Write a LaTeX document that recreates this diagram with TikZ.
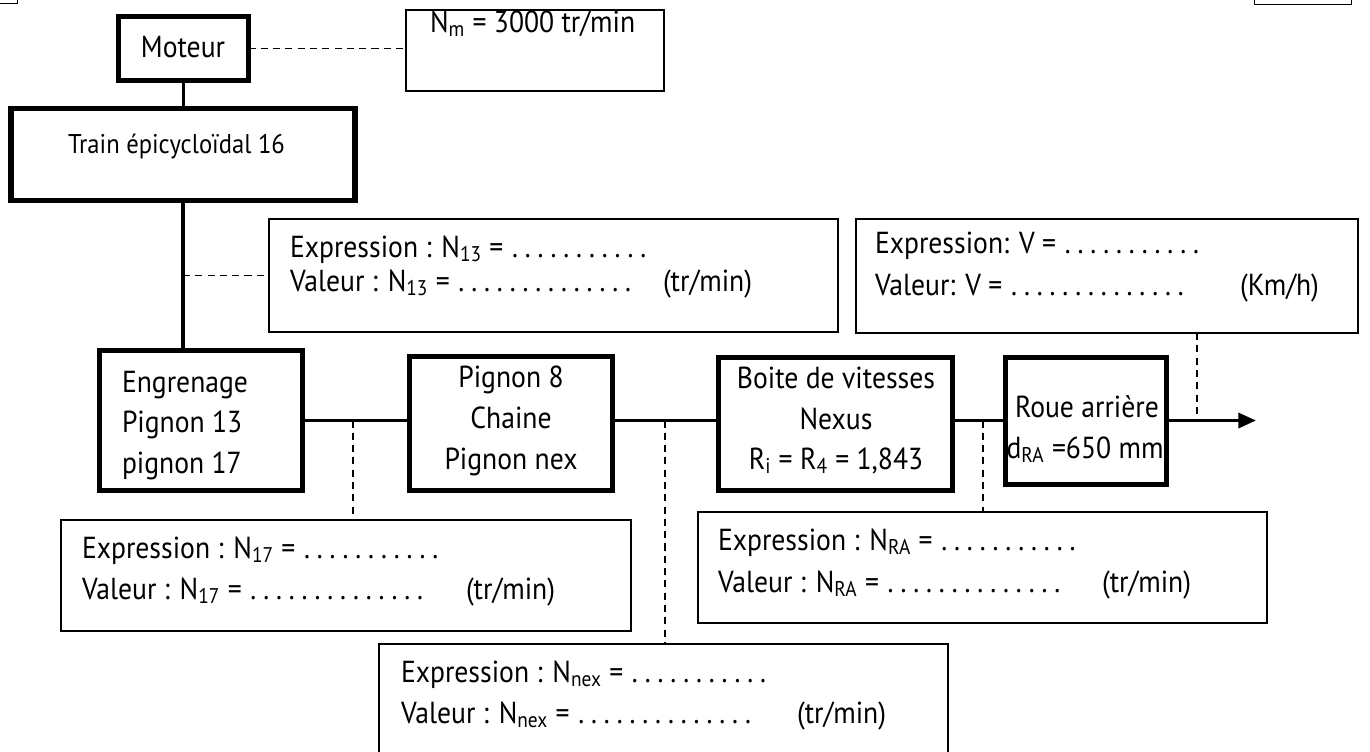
\documentclass[tikz,border=0pt]{standalone}
\usepackage{fontspec}
\setmainfont{PT Sans}[FakeStretch=0.91]
\usetikzlibrary{arrows.meta}
\newcommand\fmain{\fontsize{17.3}{22}\selectfont}
\newcommand\ftrain{\fontsize{15.4}{20}\selectfont}
\newcommand\dotrow[1]{\hspace{3pt}\cleaders\hbox to 7.3pt{\hss.\hss}\hskip\dimexpr 7.3pt*#1\relax\hbox{}}
\begin{document}
\begin{tikzpicture}[x=0.02cm, y=-0.02cm,
  thickbox/.style={draw, line width=3pt, inner sep=0pt, outer sep=0pt},
  thinbox/.style={draw, line width=1.1pt, inner sep=0pt, outer sep=0pt},
  bx/.style 2 args={minimum width=#1*0.02cm, minimum height=#2*0.02cm},
  conn/.style={line width=1.9pt},
  dashline/.style={line width=0.8pt, dash pattern=on 4pt off 3pt},
  txt/.style={inner sep=0pt, outer sep=0pt, font=\fmain},
]
\clip (0,0) rectangle (1370,751);

% partial boxes at the top edge
\node[thinbox, bx={40}{30}, anchor=south east] (tlbox) at (17.5,3.5) {};
\node[thinbox, bx={97}{30}, anchor=south east] (trbox) at (1351.5,4.5) {};

% main chain boxes
\node[thickbox, bx={130}{64}] (moteur) at (183.5,48.5) {};
\node[thickbox, bx={344}{92}] (train) at (183,154.5) {};
\node[thickbox, bx={203}{140}] (engr) at (201,420.5) {};
\node[thickbox, bx={203}{134}] (pign8) at (511,423.5) {};
\node[thickbox, bx={234}{133}] (boite) at (835.5,424) {};
\node[thickbox, bx={161}{127}] (roue) at (1086,421) {};

% answer boxes
\node[thinbox, bx={258.2}{81.2}] (nm) at (535,50.5) {};
\node[thinbox, bx={569.2}{113.2}] (n13) at (553.5,275.5) {};
\node[thinbox, bx={502.2}{114.2}] (v) at (1107,276) {};
\node[thinbox, bx={570.2}{111.2}] (n17) at (346,575.5) {};
\node[thinbox, bx={569.2}{111.2}] (nra) at (982.5,567.5) {};
\node[thinbox, bx={569.2}{113.2}] (nnex) at (663.5,700.5) {};

% texts
\node[txt, anchor=base] (tmot) at (183,57) {Moteur};
\node[txt, anchor=base west] (tnm) at (430,32) {N\textsubscript{m} = 3000 tr/min};
\node[txt, anchor=base west, font=\ftrain] (ttrain) at (68,153) {Train épicycloïdal 16};

\node[txt, anchor=base west] (te1) at (122,392) {Engrenage};
\node[txt, anchor=base west] (te2) at (122,432) {Pignon 13};
\node[txt, anchor=base west] (te3) at (122,473) {pignon 17};

\node[txt, anchor=base] (tp1) at (511,387) {Pignon 8};
\node[txt, anchor=base] (tp2) at (511,428) {Chaine};
\node[txt, anchor=base] (tp3) at (511,469) {Pignon nex};

\node[txt, anchor=base] (tb1) at (836,388) {Boite de vitesses};
\node[txt, anchor=base] (tb2) at (836,429) {Nexus};
\node[txt, anchor=base] (tb3) at (836,469) {R\textsubscript{i} = R\textsubscript{4} = 1,843};

\node[txt, anchor=base] (tr1) at (1087,417) {Roue arrière};
\node[txt, anchor=base] (tr2) at (1085,458) {d\textsubscript{RA} =650 mm};

\node[txt, anchor=base west] (t13a) at (290,257) {Expression : N\textsubscript{13} =\dotrow{11}};
\node[txt, anchor=base west] (t13b) at (290,291) {Valeur : N\textsubscript{13} =\dotrow{14}};
\node[txt, anchor=base west] (t13c) at (663,291) {(tr/min)};

\node[txt, anchor=base west] (tva) at (875,253) {Expression: V =\dotrow{11}};
\node[txt, anchor=base west] (tvb) at (875,295) {Valeur: V =\dotrow{14}};
\node[txt, anchor=base west] (tvc) at (1240,295) {(Km/h)};

\node[txt, anchor=base west] (t17a) at (82,558) {Expression : N\textsubscript{17} =\dotrow{11}};
\node[txt, anchor=base west] (t17b) at (82,599) {Valeur : N\textsubscript{17} =\dotrow{14}};
\node[txt, anchor=base west] (t17c) at (466,599) {(tr/min)};

\node[txt, anchor=base west] (tnra) at (718,550) {Expression : N\textsubscript{RA} =\dotrow{11}};
\node[txt, anchor=base west] (tnrb) at (718,592) {Valeur : N\textsubscript{RA} =\dotrow{14}};
\node[txt, anchor=base west] (tnrc) at (1102,592) {(tr/min)};

\node[txt, anchor=base west] (tnxa) at (401,682) {Expression : N\textsubscript{nex} =\dotrow{11}};
\node[txt, anchor=base west] (tnxb) at (401,723) {Valeur : N\textsubscript{nex} =\dotrow{14}};
\node[txt, anchor=base west] (tnxc) at (797,723) {(tr/min)};

% solid connectors
\draw[conn] (moteur.south) -- (moteur.south |- train.north);
\draw[conn] (train.south) -- (train.south |- engr.north);
\draw[conn] (engr.east) -- (engr.east -| pign8.west);
\draw[conn] (engr.east -| pign8.east) -- (engr.east -| boite.west);
\draw[conn] (engr.east -| boite.east) -- (engr.east -| roue.west);
\coordinate (tip) at (1256,420.5);
\draw[conn, -{Triangle[length=10pt, width=8.5pt]}] (engr.east -| roue.east) -- (tip);

% dashed leaders
\draw[dashline] (moteur.east) -- (moteur.east -| nm.west);
\coordinate (j0) at (train.south |- n13.west);
\draw[dashline] (j0) -- (n13.west);
\coordinate (d1) at (353,420.5);
\coordinate (d2) at (665,420.5);
\coordinate (d3) at (983,420.5);
\coordinate (d4) at (1197,420.5);
\draw[dashline] (d1) -- (d1 |- n17.north);
\draw[dashline] (d2) -- (d2 |- nnex.north);
\draw[dashline] (d3) -- (d3 |- nra.north);
\draw[dashline] (d4 |- v.south) -- (d4);
\end{tikzpicture}
\end{document}
